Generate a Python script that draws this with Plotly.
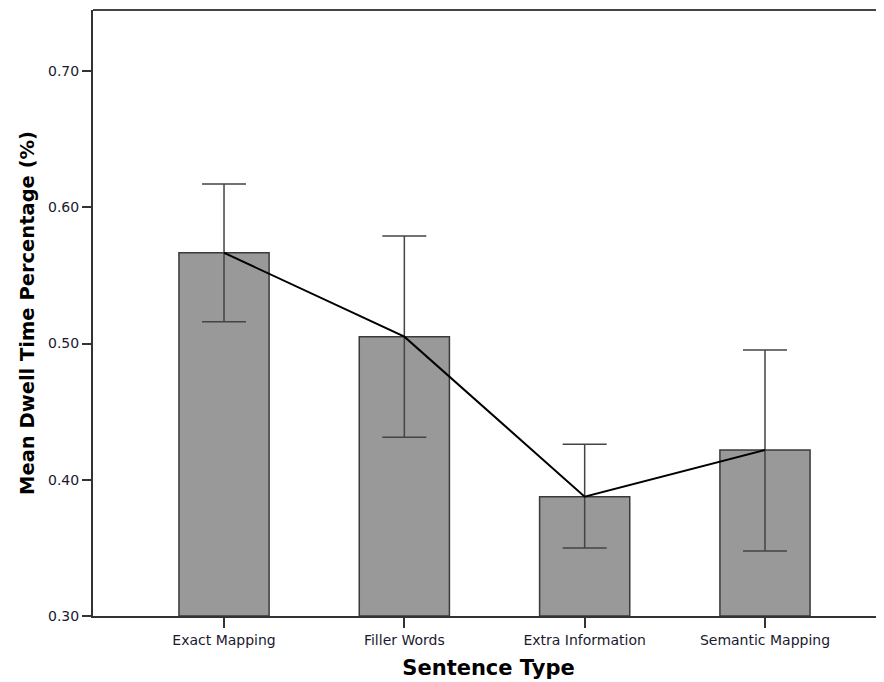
import plotly.graph_objects as go

categories = ["Exact Mapping", "Filler Words", "Extra Information", "Semantic Mapping"]
means = [0.5666, 0.5050, 0.3876, 0.4218]
ci_upper = [0.6171, 0.5789, 0.4260, 0.4952]
ci_lower = [0.5160, 0.4312, 0.3499, 0.3477]
y_ticks = [0.30, 0.40, 0.50, 0.60, 0.70]
y_ticklabels = ["0.30", "0.40", "0.50", "0.60", "0.70"]

xpos = list(range(len(categories)))
err_plus = [u - m for u, m in zip(ci_upper, means)]
err_minus = [m - l for m, l in zip(means, ci_lower)]

fig = go.Figure()
fig.add_trace(go.Bar(
    x=xpos, y=[m - 0.30 for m in means], base=0.30, width=0.5,
    marker=dict(color="#999999", line=dict(color="#3a3a3a", width=1.5)),
    showlegend=False, hoverinfo="skip",
))
fig.add_trace(go.Scatter(
    x=xpos, y=means, mode="lines",
    line=dict(color="#000000", width=2),
    error_y=dict(type="data", symmetric=False, array=err_plus, arrayminus=err_minus,
                 color="#444444", thickness=1.5, width=22),
    showlegend=False,
))

fig.add_shape(type="line", xref="paper", yref="paper", x0=0, x1=1, y0=1, y1=1,
              line=dict(color="#444444", width=2))

fig.update_layout(
    width=876, height=674,
    margin=dict(l=85, r=0, t=2, b=66),
    plot_bgcolor="white", paper_bgcolor="white",
    font=dict(family="DejaVu Sans", color="#1a1a2e"),
    xaxis=dict(
        range=[-0.7266, 3.66], tickvals=xpos, ticktext=categories,
        showline=True, linecolor="#333333", linewidth=2,
        ticks="outside", ticklen=10, tickwidth=2, tickcolor="#333333",
        tickfont=dict(size=14, color="#1a1a2e"), showgrid=False, zeroline=False,
        title=dict(text="<b>Sentence Type</b>", font=dict(size=21, color="#000000"), standoff=14),
    ),
    yaxis=dict(
        range=[0.30, 0.7448], tickvals=y_ticks, ticktext=y_ticklabels,
        showline=True, linecolor="#333333", linewidth=2,
        ticks="outside", ticklen=9, tickwidth=2, tickcolor="#333333",
        tickfont=dict(size=14, color="#1a1a2e"), showgrid=False, zeroline=False,
        title=dict(text="<b>Mean Dwell Time Percentage (%)</b>", font=dict(size=19.5, color="#000000"), standoff=8),
    ),
)

fig.write_html("out.html")
